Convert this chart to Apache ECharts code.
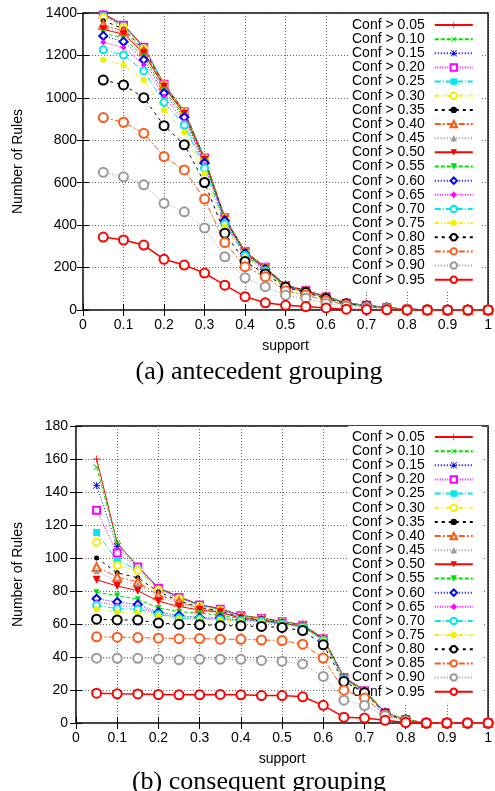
<!DOCTYPE html>
<html>
<head>
<meta charset="utf-8">
<script src="https://cdn.jsdelivr.net/npm/echarts@6/dist/echarts.min.js"></script>
<style>
  html, body { margin: 0; padding: 0; background: #fff; }
  #chart { width: 495px; height: 791px; }
</style>
</head>
<body>
<div id="chart"></div>
<script>
// Minimum support values on the x axis
const support = [0.05, 0.10, 0.15, 0.20, 0.25, 0.30, 0.35, 0.40, 0.45, 0.50,
                 0.55, 0.60, 0.65, 0.70, 0.75, 0.80, 0.85, 0.90, 0.95, 1.00];

// Confidence thresholds (legend entries)
const confLabels = ['Conf > 0.05', 'Conf > 0.10', 'Conf > 0.15', 'Conf > 0.20', 'Conf > 0.25',
                    'Conf > 0.30', 'Conf > 0.35', 'Conf > 0.40', 'Conf > 0.45', 'Conf > 0.50',
                    'Conf > 0.55', 'Conf > 0.60', 'Conf > 0.65', 'Conf > 0.70', 'Conf > 0.75',
                    'Conf > 0.80', 'Conf > 0.85', 'Conf > 0.90', 'Conf > 0.95'];

// (a) antecedent grouping: number of rules per confidence threshold
const a05 = [1396, 1346, 1240, 1066, 937, 717, 436, 277, 202, 117, 93, 64, 33, 22, 11, 4, 1, 0, 0, 0];
const a10 = [1393, 1344, 1239, 1065, 936, 716, 435, 276, 201, 117, 92, 64, 33, 22, 11, 4, 1, 0, 0, 0];
const a15 = [1391, 1342, 1238, 1064, 935, 716, 435, 276, 201, 116, 92, 63, 33, 22, 11, 4, 1, 0, 0, 0];
const a20 = [1391, 1342, 1238, 1064, 935, 716, 435, 276, 201, 116, 92, 63, 32, 22, 11, 4, 1, 0, 0, 0];
const a25 = [1386, 1338, 1235, 1063, 934, 715, 434, 275, 200, 116, 91, 63, 32, 21, 10, 4, 1, 0, 0, 0];
const a30 = [1378, 1333, 1232, 1062, 933, 714, 433, 275, 200, 115, 91, 62, 32, 21, 10, 4, 1, 0, 0, 0];
const a35 = [1364, 1325, 1227, 1060, 931, 713, 432, 274, 199, 115, 90, 62, 32, 21, 10, 4, 1, 0, 0, 0];
const a40 = [1345, 1314, 1220, 1057, 929, 711, 430, 273, 198, 114, 90, 62, 31, 21, 10, 4, 1, 0, 0, 0];
const a45 = [1335, 1307, 1216, 1055, 927, 709, 429, 272, 197, 114, 89, 61, 31, 21, 10, 4, 1, 0, 0, 0];
const a50 = [1323, 1300, 1210, 1052, 924, 707, 427, 271, 196, 113, 89, 61, 31, 21, 10, 4, 1, 0, 0, 0];
const a55 = [1305, 1282, 1195, 1038, 916, 700, 424, 269, 194, 112, 88, 60, 31, 20, 10, 4, 1, 0, 0, 0];
const a60 = [1292, 1265, 1180, 1022, 908, 693, 421, 266, 192, 111, 87, 59, 30, 20, 10, 4, 1, 0, 0, 0];
const a65 = [1262, 1237, 1155, 1006, 890, 683, 414, 262, 189, 109, 86, 58, 30, 20, 10, 4, 1, 0, 0, 0];
const a70 = [1227, 1202, 1127, 979, 872, 668, 405, 257, 185, 107, 85, 57, 30, 20, 10, 3, 1, 0, 0, 0];
const a75 = [1180, 1155, 1084, 943, 838, 643, 392, 249, 180, 104, 83, 55, 29, 19, 9, 3, 1, 0, 0, 0];
const a80 = [1084, 1061, 1001, 869, 779, 601, 362, 229, 170, 107, 82, 53, 29, 19, 9, 3, 1, 0, 0, 0];
const a85 = [907, 885, 833, 723, 660, 523, 318, 204, 157, 91, 71, 44, 25, 16, 8, 3, 1, 0, 0, 0];
const a90 = [649, 628, 590, 503, 463, 386, 251, 152, 110, 69, 55, 31, 18, 12, 6, 2, 0, 0, 0, 0];
const a95 = [344, 330, 306, 239, 212, 174, 117, 63, 34, 22, 16, 10, 4, 2, 1, 0, 0, 0, 0, 0];

// (b) consequent grouping: number of rules per confidence threshold
const b05 = [160, 109, 95, 82, 76.5, 71.8, 69.3, 65.3, 63.6, 61.6, 59.6, 51.5, 28, 19.8, 6.5, 2, 0, 0, 0, 0];
const b10 = [155, 109, 95, 81.8, 76.3, 71.6, 69.1, 65.1, 63.5, 61.5, 59.5, 51.3, 27.8, 19.7, 6.4, 2, 0, 0, 0, 0];
const b15 = [144, 107, 94.5, 81.6, 76.1, 71.5, 69, 65, 63.4, 61.4, 59.4, 51.2, 27.7, 19.6, 6.3, 2, 0, 0, 0, 0];
const b20 = [129, 103, 94.5, 81.6, 76.1, 71.5, 69, 65, 63.3, 61.3, 59.3, 51.1, 27.6, 19.5, 6.3, 2, 0, 0, 0, 0];
const b25 = [115.5, 98.5, 93, 80.8, 75.5, 71, 68.5, 64.6, 63.1, 61.1, 59.2, 51, 27.5, 19.5, 6.2, 2, 0, 0, 0, 0];
const b30 = [109.5, 95.5, 92.5, 80.5, 75.3, 70.8, 68.3, 64.4, 63, 61, 59.1, 50.9, 27.4, 19.4, 6.2, 2, 0, 0, 0, 0];
const b35 = [100, 91, 88, 79.5, 74, 70, 68, 64, 62.8, 60.8, 59, 50.8, 27.3, 19.3, 6.1, 2, 0, 0, 0, 0];
const b40 = [94.5, 88.5, 85.5, 77.5, 73.5, 69.5, 67.5, 63.8, 62.6, 60.6, 58.8, 50.7, 27.2, 19.2, 6.1, 2, 0, 0, 0, 0];
const b45 = [92, 86, 84, 76.3, 72.5, 69, 67.3, 63.7, 62.4, 60.5, 58.7, 50.6, 27.1, 19.1, 6, 2, 0, 0, 0, 0];
const b50 = [86.8, 83, 80.2, 73.8, 70.6, 68.5, 67.1, 63.5, 62.3, 60.4, 58.6, 50.5, 27, 19, 6, 2, 0, 0, 0, 0];
const b55 = [79.2, 77.2, 75, 69.7, 67.5, 66.5, 65.5, 63, 62, 60.2, 58.5, 50.4, 26.9, 19, 6, 2, 0, 0, 0, 0];
const b60 = [75.3, 73.3, 71.8, 67.1, 65.1, 64, 63.6, 62.5, 61.8, 60.1, 58.4, 50.3, 26.8, 18.9, 5.9, 2, 0, 0, 0, 0];
const b65 = [73.4, 71.3, 70.4, 66.2, 64, 63.3, 62.9, 62.2, 61.6, 60, 58.3, 50.2, 26.7, 18.9, 5.9, 2, 0, 0, 0, 0];
const b70 = [71.3, 69.3, 69, 65.8, 63.6, 63, 62.6, 62, 61.5, 59.9, 58.2, 50.1, 26.6, 18.8, 5.9, 2, 0, 0, 0, 0];
const b75 = [69, 67.1, 67, 65.1, 63.3, 62.7, 62.4, 61.8, 61.4, 59.8, 58.1, 50, 26.5, 18.8, 5.8, 2, 0, 0, 0, 0];
const b80 = [62.9, 62.5, 62.4, 60.6, 59.9, 59.6, 59, 58.9, 58.5, 57.9, 56, 47.4, 25.1, 18.4, 5.5, 1.8, 0, 0, 0, 0];
const b85 = [52.2, 52, 51.8, 51.4, 51.1, 51.2, 50.8, 50.7, 50.3, 50, 47.8, 39.4, 19.9, 15.1, 5, 1.5, 0, 0, 0, 0];
const b90 = [39.3, 39.2, 39.2, 38.8, 38.4, 38.6, 38.7, 38.6, 37.9, 37.4, 35.8, 28.2, 13.8, 10.6, 4.4, 1.2, 0, 0, 0, 0];
const b95 = [18.1, 17.7, 17.6, 17.2, 17.1, 17.1, 17.3, 17.1, 16.6, 16.6, 15.9, 10.7, 3.5, 3, 1.6, 0.3, 0, 0, 0, 0];

const antecedentRules = [a05, a10, a15, a20, a25, a30, a35, a40, a45, a50,
                         a55, a60, a65, a70, a75, a80, a85, a90, a95];
const consequentRules = [b05, b10, b15, b20, b25, b30, b35, b40, b45, b50,
                         b55, b60, b65, b70, b75, b80, b85, b90, b95];

// ---- styling (gnuplot-like line types) ----
const RED = '#ff0000', GREEN = '#00e000', BLUE = '#0000ff', MAGENTA = '#ff00ff',
      CYAN = '#00e8e8', YELLOW = '#f0f000', BLACK = '#000000', ORANGE = '#ff5a1a', GRAY = '#9a9a9a';

const PLUS = 'path://M4.45,0H5.55V4.45H10V5.55H5.55V10H4.45V5.55H0V4.45H4.45Z';
const STAR = 'path://M4.45,0H5.55V4.45H10V5.55H5.55V10H4.45V5.55H0V4.45H4.45Z' +
             'M0.8,0L5,4.2L9.2,0L10,0.8L5.8,5L10,9.2L9.2,10L5,5.8L0.8,10L0,9.2L4.2,5L0,0.8Z';

const DASH = [4, 2], DOT = [1, 2], FINEDOT = [1, 1.5], DASHDOT = [6, 2, 1, 2],
      DASHDOTDOT = [4, 2, 1, 2, 1, 2], SPACED = [3, 4], LONGDOT = [6, 2, 2, 2];

const styles = [
  { color: RED,     dash: 'solid',    symbol: PLUS,            size: 7 },
  { color: GREEN,   dash: DASH,       symbol: PLUS,            size: 8, rotate: 45 },
  { color: BLUE,    dash: DOT,        symbol: STAR,            size: 7 },
  { color: MAGENTA, dash: FINEDOT,    symbol: 'emptyRect',     size: 7 },
  { color: CYAN,    dash: DASHDOT,    symbol: 'rect',          size: 7 },
  { color: YELLOW,  dash: DASHDOTDOT, symbol: 'emptyCircle',   size: 7 },
  { color: BLACK,   dash: SPACED,     symbol: 'circle',        size: 5 },
  { color: ORANGE,  dash: LONGDOT,    symbol: 'emptyTriangle', size: 8 },
  { color: GRAY,    dash: DOT,        symbol: 'triangle',      size: 6 },
  { color: RED,     dash: 'solid',    symbol: 'triangle',      size: 8, rotate: 180 },
  { color: GREEN,   dash: DASH,       symbol: 'triangle',      size: 6, rotate: 180 },
  { color: BLUE,    dash: DOT,        symbol: 'emptyDiamond',  size: 8 },
  { color: MAGENTA, dash: FINEDOT,    symbol: 'diamond',       size: 6 },
  { color: CYAN,    dash: DASHDOT,    symbol: 'emptyCircle',   size: 7 },
  { color: YELLOW,  dash: DASHDOTDOT, symbol: 'circle',        size: 6 },
  { color: BLACK,   dash: SPACED,     symbol: 'emptyCircle',   size: 9, ring: true },
  { color: ORANGE,  dash: LONGDOT,    symbol: 'emptyCircle',   size: 9, ring: true },
  { color: GRAY,    dash: DOT,        symbol: 'emptyCircle',   size: 9, ring: true },
  { color: RED,     dash: 'solid',    symbol: 'emptyCircle',   size: 9, ring: true }
];

const FONT = 'Liberation Sans';
const gridLine = { show: true, lineStyle: { color: '#666', width: 1, type: [1, 2] } };

function makeSeries(values, axisIdx) {
  return values.map((vals, i) => {
    const s = styles[i];
    return {
      name: confLabels[i],
      type: 'line',
      xAxisIndex: axisIdx,
      yAxisIndex: axisIdx,
      data: support.map((x, k) => [x, vals[k]]),
      symbol: s.symbol,
      symbolSize: s.size,
      symbolRotate: s.rotate || 0,
      showAllSymbol: true,
      lineStyle: { color: s.color, width: (i === 18 ? 1.5 : 1), type: s.dash },
      itemStyle: { color: s.color, borderWidth: s.ring ? 2.2 : 1 },
      emphasis: { disabled: true },
      z: 2
    };
  });
}

function mainX(grid, labelMargin) {
  return {
    type: 'value', gridIndex: grid, min: 0, max: 1, interval: 0.1,
    axisLine: { show: false },
    axisTick: { show: true, inside: true, length: 6, lineStyle: { color: '#000' } },
    axisLabel: { color: '#000', fontSize: 14, fontFamily: FONT, margin: labelMargin,
                 formatter: v => String(Math.round(v * 10) / 10) },
    splitLine: gridLine,
    name: 'support', nameLocation: 'middle', nameGap: 29,
    nameTextStyle: { color: '#000', fontSize: 14, fontFamily: FONT }
  };
}
function mirrorX(grid) {
  return {
    type: 'value', gridIndex: grid, position: 'top', min: 0, max: 1, interval: 0.1,
    axisLine: { show: false }, axisLabel: { show: false }, splitLine: { show: false },
    axisTick: { show: true, inside: true, length: 6, lineStyle: { color: '#000' } }
  };
}
function mainY(grid, max, step, labelMargin, nameGap) {
  return {
    type: 'value', gridIndex: grid, min: 0, max: max, interval: step,
    axisLine: { show: false },
    axisTick: { show: true, inside: true, length: 6, lineStyle: { color: '#000' } },
    axisLabel: { color: '#000', fontSize: 14, fontFamily: FONT, margin: labelMargin,
                 formatter: v => String(v) },
    splitLine: gridLine,
    name: 'Number of Rules', nameLocation: 'middle', nameGap: nameGap,
    nameTextStyle: { color: '#000', fontSize: 14, fontFamily: FONT }
  };
}
function mirrorY(grid, max, step) {
  return {
    type: 'value', gridIndex: grid, position: 'right', min: 0, max: max, interval: step,
    axisLine: { show: false }, axisLabel: { show: false }, splitLine: { show: false },
    axisTick: { show: true, inside: true, length: 6, lineStyle: { color: '#000' } }
  };
}
function legendAt(top) {
  return {
    orient: 'vertical', left: 348, top: top, align: 'right',
    itemWidth: 38, itemHeight: 8, itemGap: 0.15,
    padding: [4, 8, 4, 4], backgroundColor: '#fff', z: 1,
    selectedMode: false,
    textStyle: { color: '#000', fontSize: 14, fontFamily: FONT, lineHeight: 14, padding: [0, 5, 0, 0] },
    data: confLabels
  };
}

const chart = echarts.init(document.getElementById('chart'), null, { renderer: 'canvas' });
chart.setOption({
  animation: false,
  backgroundColor: '#fff',
  grid: [
    { left: 83, top: 13, width: 406, height: 297, show: true, borderColor: '#000', borderWidth: 1.5, backgroundColor: 'transparent' },
    { left: 76, top: 426, width: 413, height: 297, show: true, borderColor: '#000', borderWidth: 1.5, backgroundColor: 'transparent' }
  ],
  xAxis: [mainX(0, 8), mainX(1, 8), mirrorX(0), mirrorX(1)],
  yAxis: [mainY(0, 1400, 200, 6, 58), mainY(1, 180, 20, 8, 51), mirrorY(0, 1400, 200), mirrorY(1, 180, 20)],
  legend: [legendAt(14), legendAt(426)],
  graphic: [
    { type: 'text', x: 259, y: 372, style: { text: '(a) antecedent grouping', fill: '#000',
      font: '26px "Liberation Serif"', textAlign: 'center', textVerticalAlign: 'middle' } },
    { type: 'text', x: 259, y: 782, style: { text: '(b) consequent grouping', fill: '#000',
      font: '26px "Liberation Serif"', textAlign: 'center', textVerticalAlign: 'middle' } }
  ],
  series: makeSeries(antecedentRules, 0).concat(makeSeries(consequentRules, 1))
});
</script>
</body>
</html>
